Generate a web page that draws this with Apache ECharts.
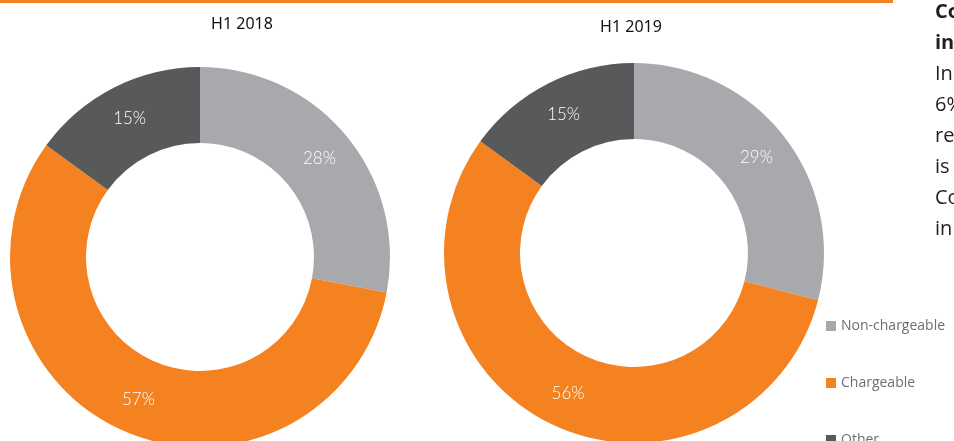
<!DOCTYPE html>
<html>
<head>
<meta charset="utf-8">
<script src="https://cdn.jsdelivr.net/npm/echarts@6/dist/echarts.min.js"></script>
<style>
  html, body { margin: 0; padding: 0; background: #fff; }
  #chart { width: 954px; height: 441px; }
</style>
</head>
<body>
<div id="chart"></div>
<script>
// chart data
const categories = ['Non-chargeable', 'Chargeable', 'Other']
const h1_2018 = [28, 57, 15]
const h1_2019 = [29, 56, 15]
const periods = ['H1 2018', 'H1 2019']
const sideText = ['Co', 'in', 'In', '6%', 're', 'is', 'Co', 'in']

const colors = ['#a7a9ac', '#f58220', '#58595b']

function toData(values) {
  return categories.map((name, i) => ({ name, value: values[i] }))
}

function donut(values, center) {
  return {
    type: 'pie',
    center: center,
    radius: [114, 190],
    startAngle: 90,
    clockwise: true,
    silent: true,
    label: {
      position: 'inside',
      formatter: '{c}%',
      color: '#fff',
      fontSize: 17,
      fontFamily: 'Lato',
      fontWeight: 300,
    },
    labelLine: { show: false },
    itemStyle: { borderWidth: 0 },
    data: toData(values),
  }
}

const titleStyle = { fontSize: 16, fontWeight: 'normal', color: '#111', fontFamily: 'Noto Sans' }

const myChart = echarts.init(document.getElementById('chart'))
myChart.setOption({
  animation: false,
  color: colors,
  title: [
    { text: periods[0], left: 237, top: 11, textAlign: 'center', textStyle: titleStyle },
    { text: periods[1], left: 626, top: 14, textAlign: 'center', textStyle: titleStyle },
  ],
  legend: {
    orient: 'vertical',
    left: 821,
    top: 314,
    height: 300,
    itemWidth: 10,
    itemHeight: 10,
    itemGap: 43,
    icon: 'rect',
    textStyle: { fontSize: 14, color: '#6d6e71', fontFamily: 'Open Sans' },
    data: categories,
  },
  graphic: [
    {
      type: 'rect',
      shape: { x: 0, y: 0, width: 893, height: 3 },
      style: { fill: '#f58220' },
    },
  ].concat(
    sideText.map((t, i) => ({
      type: 'text',
      left: 935,
      top: 2 + i * 31,
      style: {
        text: t,
        fontSize: 20,
        fontFamily: 'Open Sans',
        fontWeight: i < 2 ? 'bold' : 'normal',
        fill: '#231f20',
      },
    }))
  ),
  series: [donut(h1_2018, [200, 257]), donut(h1_2019, [634, 253])],
})
</script>
</body>
</html>
